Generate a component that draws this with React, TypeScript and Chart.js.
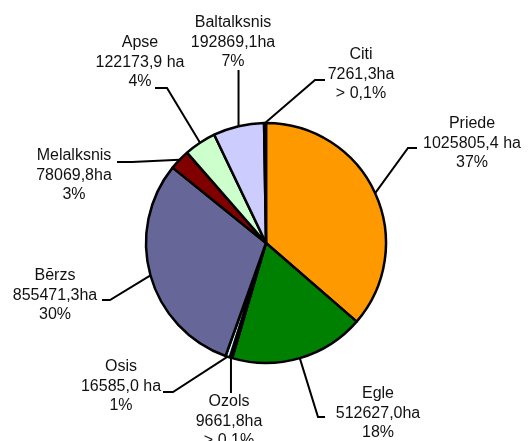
import React, { useEffect, useRef } from "react";
import { Chart, registerables } from "chart.js";

Chart.register(...registerables);

const categories = ["Priede", "Egle", "Ozols", "Osis", "Bērzs", "Melalksnis", "Apse", "Baltalksnis", "Citi"];
const areaHa = [1025805.4, 512627.0, 9661.8, 16585.0, 855471.3, 78069.8, 122173.9, 192869.1, 7261.3];
const areaLabels = ["1025805,4 ha", "512627,0ha", "9661,8ha", "16585,0 ha", "855471,3ha", "78069,8ha", "122173,9 ha", "192869,1ha", "7261,3ha"];
const percentLabels = ["37%", "18%", "> 0,1%", "1%", "30%", "3%", "4%", "7%", "> 0,1%"];

const sliceColors = ["#FF9900", "#008000", "#1a1a1a", "#CCFFFF", "#666699", "#800000", "#CCFFCC", "#CCCCFF", "#1a1a1a"];

// label layout relative to pie centre: elbow (ex, ey; ex null = straight from anchor), end x, label centre x, first line y
const labelLayout = [
  { ex: 142, ey: -95, endX: 151, lx: 206, ly: -119 },
  { ex: 52, ey: 174, endX: 59, lx: 112, ly: 151 },
  { ex: null, ey: 150, endX: null, lx: -37, ly: 159 },
  { ex: -93, ey: 149, endX: -103, lx: -145, ly: 124 },
  { ex: -156, ey: 57, endX: -164, lx: -211, ly: 33 },
  { ex: -134, ey: -81, endX: -149, lx: -192, ly: -87 },
  { ex: -99, ey: -155, endX: -111, lx: -126, ly: -200 },
  { ex: null, ey: -173, endX: null, lx: -33, ly: -220 },
  { ex: 49, ey: -163, endX: 59, lx: 95, ly: -188 },
];

const leaderPlugin = {
  id: "leaders",
  afterDraw(chart: any) {
    const ctx = chart.ctx;
    const meta = chart.getDatasetMeta(0);
    ctx.save();
    ctx.strokeStyle = "#000";
    ctx.lineWidth = 2;
    ctx.fillStyle = "#111";
    ctx.font = "16px 'Liberation Sans', Arial, sans-serif";
    ctx.textAlign = "center";
    ctx.textBaseline = "middle";
    meta.data.forEach((arc: any, i: number) => {
      const p = arc.getProps(["x", "y", "startAngle", "endAngle", "outerRadius"], true);
      const mid = (p.startAngle + p.endAngle) / 2;
      const ax = p.x + Math.cos(mid) * p.outerRadius;
      const ay = p.y + Math.sin(mid) * p.outerRadius;
      const l = labelLayout[i];
      const ex = l.ex === null ? ax : p.x + l.ex;
      const ey = p.y + l.ey;
      const endX = l.endX === null ? ex : p.x + l.endX;
      ctx.beginPath();
      ctx.moveTo(ax, ay);
      ctx.lineTo(ex, ey);
      ctx.lineTo(endX, ey);
      ctx.stroke();
      const lines = [categories[i], areaLabels[i], percentLabels[i]];
      lines.forEach((t, k) => {
        ctx.fillText(t, p.x + l.lx, p.y + l.ly + k * 19.5);
      });
    });
    ctx.restore();
  },
};

export default function App() {
  const ref = useRef<HTMLCanvasElement | null>(null);
  useEffect(() => {
    if (!ref.current) return;
    const chart = new Chart(ref.current, {
      type: "pie",
      data: {
        labels: categories,
        datasets: [
          {
            data: areaHa,
            backgroundColor: sliceColors,
            borderColor: "#000",
            borderWidth: 2.5,
            radius: 120,
          } as any,
        ],
      },
      options: {
        responsive: false,
        animation: false,
        layout: { padding: { left: 1, right: 0, top: 45, bottom: 0 } },
        plugins: {
          legend: { display: false },
          tooltip: { enabled: false },
        },
      },
      plugins: [leaderPlugin],
    });
    return () => chart.destroy();
  }, []);
  return (
    <div style={{ position: "absolute", left: 0, top: 0, width: 531, height: 441, background: "#fff" }}>
      <canvas ref={ref} width={531} height={441} style={{ display: "block" }} />
    </div>
  );
}
